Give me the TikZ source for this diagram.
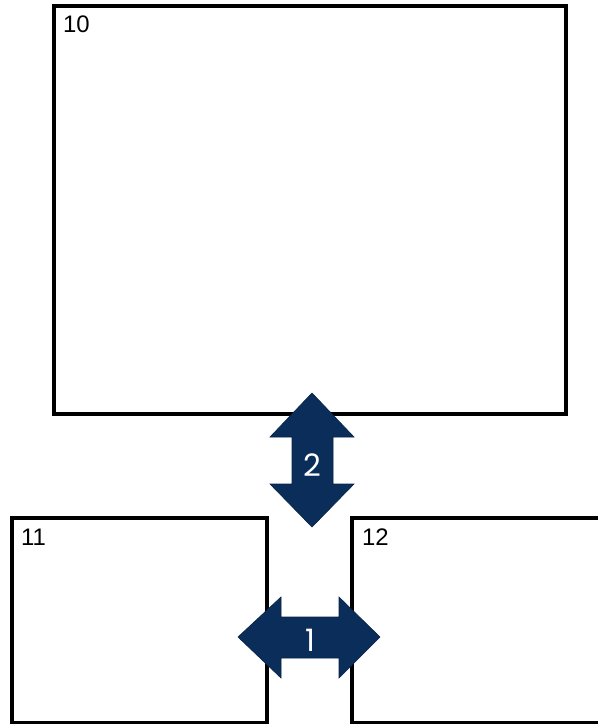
\documentclass[tikz,border=0pt]{standalone}
\usepackage{fontspec}
\setmainfont{Liberation Sans}
\newfontfamily\arrowfont{Poppins}
\definecolor{navy}{RGB}{10,45,90}
\begin{document}
\begin{tikzpicture}[x=1bp, y=-1bp, every node/.style={font=\fontsize{24}{27}\selectfont, inner sep=0pt},
  frame/.style={line width=3.2bp},
  blockarrow/.style={fill=navy, draw=navy!80!black, line width=0.6bp, line join=miter},
  arrowlab/.style={text=white, font=\arrowfont\fontsize{31}{34}\selectfont}]
\useasboundingbox (0,0) rectangle (598,724);
\clip (0,0) rectangle (598,724);
% boxes
\draw[frame] (54,6) rectangle (566,414);
\draw[frame] (12,518) rectangle (267,723);
\draw[frame] (610,518)--(352,518)--(352,723)--(610,723);
\foreach \x/\y/\lab in {63/24/10,21/537/11,362/537/12}
{\node[anchor=west] (box\lab) at (\x,\y) {\lab};}
% arrows
\draw[blockarrow] (312,393)--(354,437)--(333,437)--(333,484)--(354,484)--(312,527)
  --(270,484)--(292,484)--(292,437)--(270,437)--cycle;
\node[arrowlab] (arrowtwo) at (312,465) {2};
\draw[blockarrow] (238,637)--(281,597)--(281,617)--(339,617)--(339,597)--(380,637)
  --(339,678)--(339,658)--(281,658)--(281,678)--cycle;
\node[arrowlab] (arrowone) at (310,640) {1};
\end{tikzpicture}
\end{document}
